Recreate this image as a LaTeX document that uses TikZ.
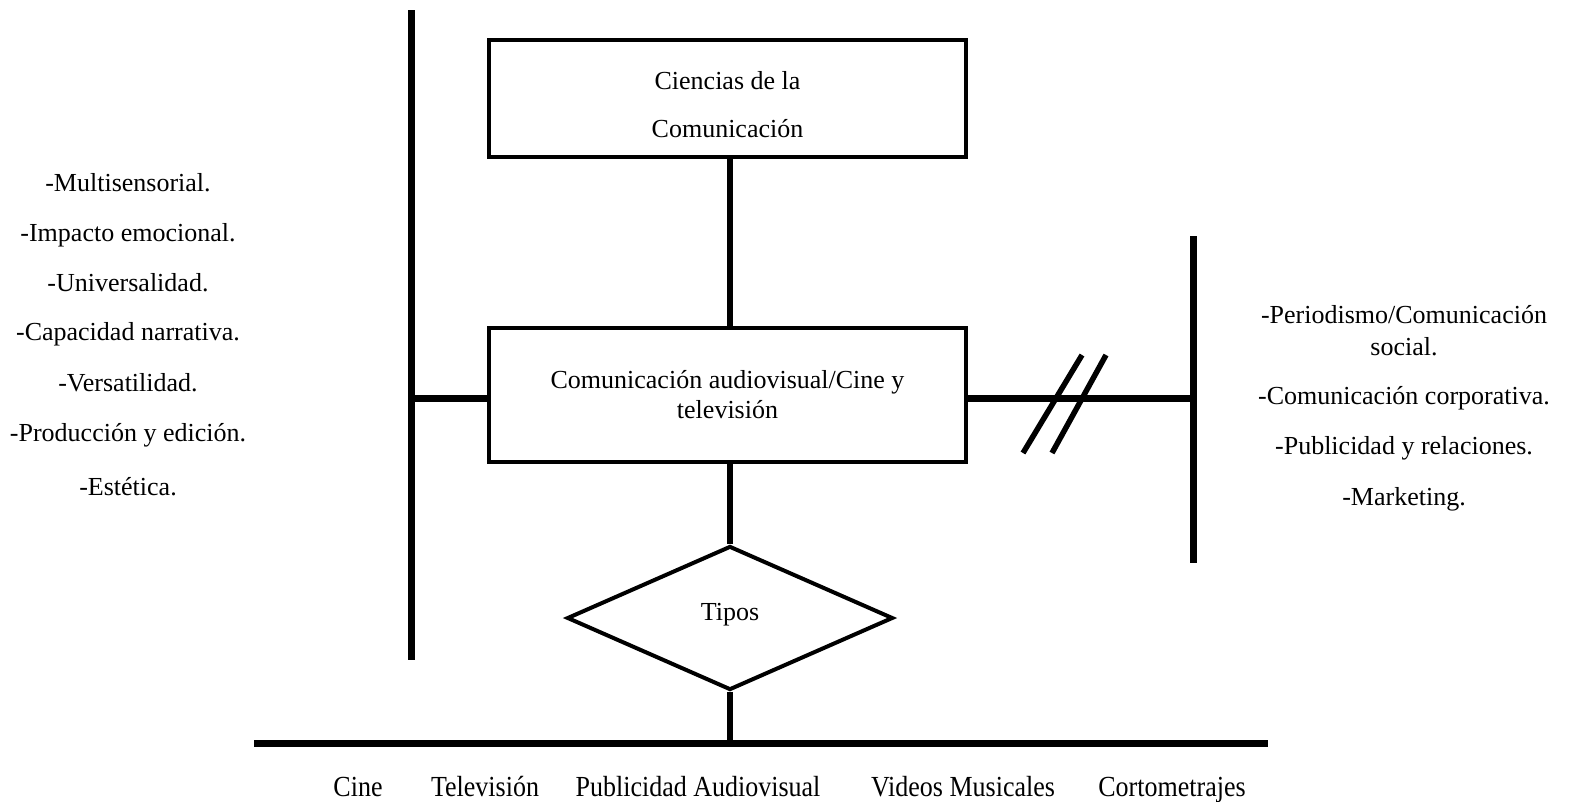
\documentclass[tikz,border=0pt]{standalone}
\usepackage{fontspec}
\setmainfont{Liberation Serif}
\usetikzlibrary{shapes.geometric}
\begin{document}
\begin{tikzpicture}[x=1pt,y=-1pt,
  box/.style={draw, line width=4pt, rectangle, minimum width=477pt, align=center, inner sep=0pt},
  thick line/.style={line width=7pt},
  conn line/.style={line width=6pt},
  lbl/.style={font=\fontsize{26}{30}\selectfont, inner sep=0pt, align=center},
  cat/.style={font=\fontsize{26}{30}\selectfont, inner sep=0pt, yscale=1.12, anchor=base}
]
\useasboundingbox (0,0) rectangle (1570,801);
% boxes
\node[box, minimum height=117pt, font=\fontsize{26}{48}\selectfont] (top) at (727.5,98.5) {\rule{0pt}{30pt}Ciencias de la\\Comunicación};
\node[box, minimum height=134pt, font=\fontsize{26}{30}\selectfont] (mid) at (727.5,395) {Comunicación audiovisual/Cine y\\televisión};
\node[draw, line width=4pt, diamond, minimum width=326pt, minimum height=144pt, inner sep=0pt, font=\fontsize{26}{30}\selectfont] (tipos) at (730,618) {Tipos\rule[-12pt]{0pt}{0pt}};
% coordinates
\coordinate (lt) at (411,10);
\coordinate (lb) at (411,660);
\coordinate (lm) at (408,398);
\coordinate (rt) at (1193,236);
\coordinate (rb) at (1193,563);
\coordinate (rm) at (1193,398);
\coordinate (bl) at (254,743);
\coordinate (br) at (1268,743);
\coordinate (bm) at (730,743);
\coordinate (s1a) at (1023,453);
\coordinate (s1b) at (1082,355);
\coordinate (s2a) at (1052,453);
\coordinate (s2b) at (1106,355);
% lines
\draw[thick line] (lt) -- (lb);
\draw[thick line] (rt) -- (rb);
\draw[thick line] (bl) -- (br);
\draw[thick line] (lm) -- (lm -| mid.west);
\draw[thick line] (rm -| mid.east) -- (rm);
\draw[conn line] (bm |- top.south) -- (bm |- mid.north);
\draw[conn line] (bm |- mid.south) -- (tipos.north);
\draw[conn line] (tipos.south) -- (bm);
\draw[line width=5.5pt] (s1a) -- (s1b);
\draw[line width=5.5pt] (s2a) -- (s2b);
% left list
\node[lbl] (l1) at (128,183) {-Multisensorial.};
\node[lbl] (l2) at (128,235) {-Impacto emocional.};
\node[lbl] (l3) at (128,283) {-Universalidad.};
\node[lbl] (l4) at (128,334) {-Capacidad narrativa.};
\node[lbl] (l5) at (128,383) {-Versatilidad.};
\node[lbl] (l6) at (128,435) {-Producción y edición.};
\node[lbl] (l7) at (128,487) {-Estética.};
% right list
\node[lbl] (r1) at (1404,315) {-Periodismo/Comunicación};
\node[lbl] (r1b) at (1404,347) {social.};
\node[lbl] (r2) at (1404,398) {-Comunicación corporativa.};
\node[lbl] (r3) at (1404,448) {-Publicidad y relaciones.};
\node[lbl] (r4) at (1404,499) {-Marketing.};
% bottom categories
\node[cat] (c1) at (358,796) {Cine};
\node[cat] (c2) at (485,796) {Televisión};
\node[cat] (c3) at (698,796) {Publicidad Audiovisual};
\node[cat] (c4) at (963,796) {Videos Musicales};
\node[cat] (c5) at (1172,796) {Cortometrajes};
\end{tikzpicture}
\end{document}
